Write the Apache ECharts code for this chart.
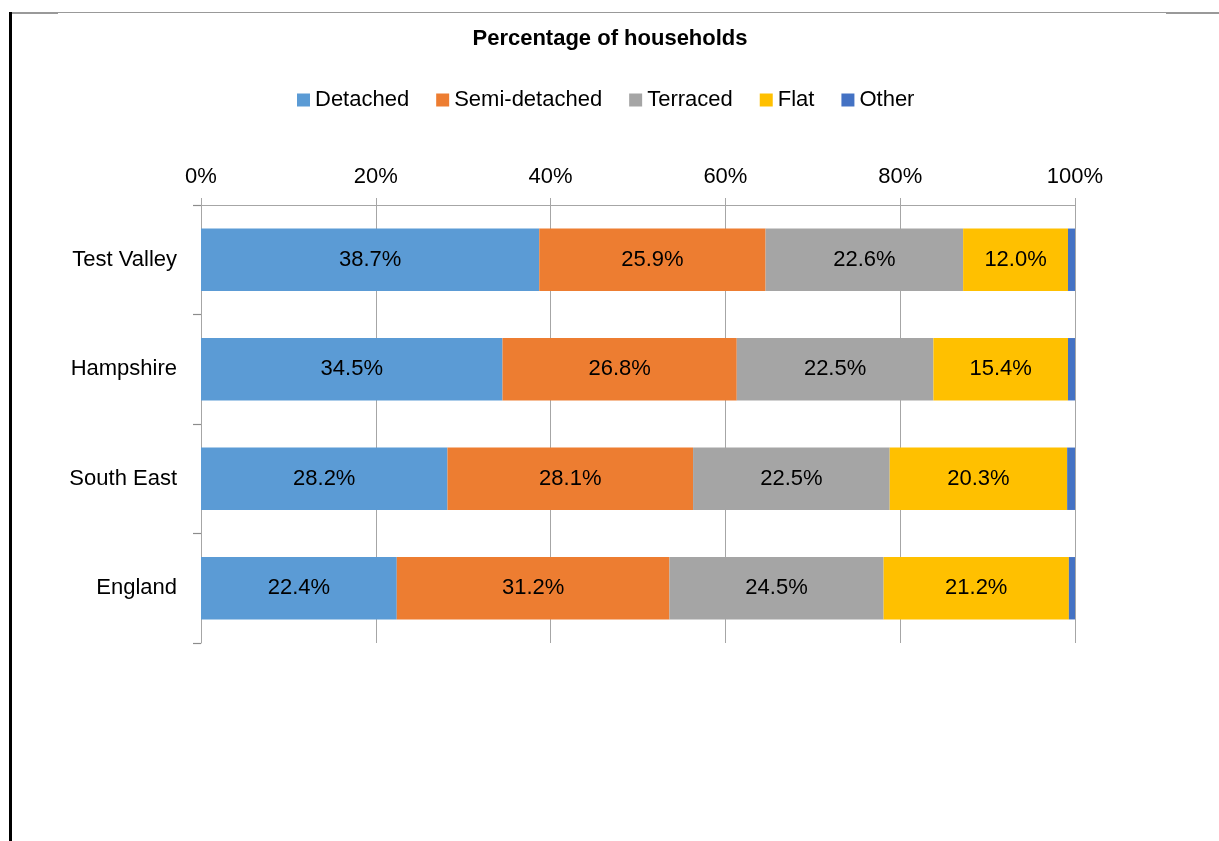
<!DOCTYPE html>
<html>
<head>
<meta charset="utf-8">
<title>Percentage of households</title>
<script src="https://cdn.jsdelivr.net/npm/echarts@6/dist/echarts.min.js"></script>
<style>
  html, body { margin: 0; padding: 0; background: #fff; }
  #wrap { position: relative; width: 1219px; height: 841px; overflow: hidden; }
  #chart { position: absolute; left: 0; top: 0; width: 1219px; height: 841px; }
  /* page edges seen in the screenshot */
  .edge-left { position: absolute; left: 9px; top: 12px; width: 3px; height: 829px; background: #000; }
  .edge-top { position: absolute; left: 10px; top: 12px; width: 1209px; height: 1px; background: #999; }
  .edge-top-a { position: absolute; left: 10px; top: 12px; width: 48px; height: 2px; background: #999; }
  .edge-top-b { position: absolute; left: 1166px; top: 12px; width: 53px; height: 2px; background: #999; }
</style>
</head>
<body>
<div id="wrap">
  <div id="chart"></div>
  <div class="edge-top"></div>
  <div class="edge-top-a"></div>
  <div class="edge-top-b"></div>
  <div class="edge-left"></div>
</div>
<script>
// categories (top to bottom)
const areas = ['Test Valley', 'Hampshire', 'South East', 'England']

// percentage of households by dwelling type
const detached     = [38.7, 34.5, 28.2, 22.4]
const semiDetached = [25.9, 26.8, 28.1, 31.2]
const terraced     = [22.6, 22.5, 22.5, 24.5]
const flat         = [12.0, 15.4, 20.3, 21.2]
const other        = [0.8, 0.8, 0.9, 0.7]

const axisTicks = [0, 20, 40, 60, 80, 100]

const font = 'Liberation Sans, Arial, sans-serif'

const chart = echarts.init(document.getElementById('chart'))

const makeSeries = (name, data, color, withLabel) => ({
  name,
  type: 'bar',
  stack: 'total',
  data,
  barCategoryGap: '43%',
  itemStyle: { color },
  label: {
    show: withLabel,
    position: 'inside',
    color: '#000',
    fontSize: 22,
    fontFamily: font,
    formatter: p => p.value.toFixed(1) + '%'
  },
  emphasis: { disabled: true }
})

chart.setOption({
  animation: false,
  backgroundColor: '#fff',
  title: {
    text: 'Percentage of households',
    left: 605,
    top: 23,
    textAlign: 'center',
    textStyle: { fontFamily: font, fontSize: 22, fontWeight: 'bold', color: '#000' }
  },
  legend: {
    top: 84,
    left: 292,
    itemWidth: 13,
    itemHeight: 13,
    itemGap: 27,
    icon: 'rect',
    textStyle: { fontFamily: font, fontSize: 22, color: '#000', padding: [0, 0, 0, 0] },
    data: ['Detached', 'Semi-detached', 'Terraced', 'Flat', 'Other']
  },
  grid: { left: 201, right: 144, top: 205, bottom: 198 },
  xAxis: {
    type: 'value',
    position: 'top',
    min: axisTicks[0],
    max: axisTicks[axisTicks.length - 1],
    interval: 20,
    axisLine: { show: true, lineStyle: { color: '#A6A6A6', width: 1 } },
    axisTick: { show: true, length: 7, lineStyle: { color: '#A6A6A6' } },
    splitLine: { show: true, lineStyle: { color: '#A6A6A6', width: 1 } },
    axisLabel: {
      margin: 17,
      fontFamily: font,
      fontSize: 22,
      color: '#000',
      formatter: '{value}%'
    }
  },
  yAxis: {
    type: 'category',
    inverse: true,
    data: areas,
    axisLine: { show: true, lineStyle: { color: '#A6A6A6', width: 1 } },
    axisTick: { show: true, length: 8, alignWithLabel: false, lineStyle: { color: '#8C8C8C', width: 1.2 } },
    axisLabel: { margin: 24, fontFamily: font, fontSize: 22, color: '#000' }
  },
  series: [
    makeSeries('Detached', detached, '#5B9BD5', true),
    makeSeries('Semi-detached', semiDetached, '#ED7D31', true),
    makeSeries('Terraced', terraced, '#A5A5A5', true),
    makeSeries('Flat', flat, '#FFC000', true),
    makeSeries('Other', other, '#4472C4', false)
  ]
})
</script>
</body>
</html>
